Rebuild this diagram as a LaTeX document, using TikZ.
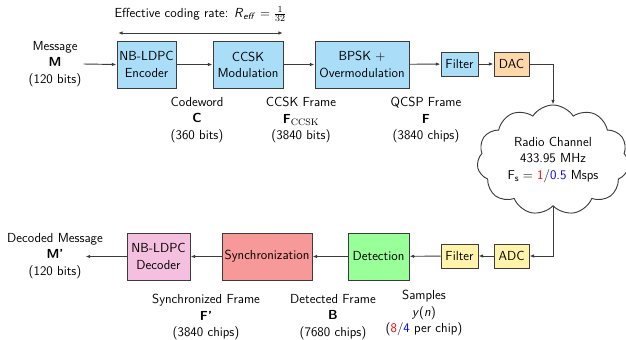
\documentclass[tikz,border=0pt]{standalone}
\usepackage{amsmath}
\usetikzlibrary{arrows.meta,shapes.symbols,positioning}
\definecolor{boxblue}{RGB}{170,222,248}
\definecolor{boxorange}{RGB}{255,216,170}
\definecolor{boxyellow}{RGB}{255,244,170}
\definecolor{boxgreen}{RGB}{153,255,153}
\definecolor{boxred}{RGB}{248,153,153}
\definecolor{boxpink}{RGB}{245,192,224}
\definecolor{linegray}{RGB}{60,60,60}
\begin{document}
\begin{tikzpicture}[x=0.03cm,y=-0.03cm,
  font=\fontsize{11.2}{13.8}\selectfont\sffamily,
  block/.style={draw=linegray,line width=0.8pt,align=center,inner sep=2pt},
  bigblock/.style={block,minimum height=47*0.03cm},
  smallblock/.style={block,minimum height=24*0.03cm,minimum width=35*0.03cm},
  lbl/.style={align=center,inner sep=0pt},
  flow/.style={draw=linegray,line width=0.8pt,-{Latex[length=4pt,width=3pt]}},
]
\useasboundingbox (0,0) rectangle (626,339);

% transmitter chain
\node[lbl] (msg) at (55,64) {Message\\ \textbf{M}\\ (120 bits)};
\node[bigblock,fill=boxblue,minimum width=57*0.03cm] (enc) at (146.5,64.5) {NB-LDPC\\Encoder};
\node[bigblock,fill=boxblue,minimum width=70*0.03cm] (mod) at (248,64.5) {CCSK\\Modulation};
\node[bigblock,fill=boxblue,minimum width=94*0.03cm] (bpsk) at (362,64.5) {BPSK $+$\\Overmodulation};
\node[smallblock,fill=boxblue,minimum width=37*0.03cm] (ftx) at (459.5,64) {Filter};
\node[smallblock,fill=boxorange] (dac) at (511.5,64) {DAC};

\draw[flow] (msg.east) ++(2,0) coordinate (msgout) -- (enc.west);
\draw[flow] (enc) -- (mod);
\draw[flow] (mod) -- (bpsk);
\draw[flow] (bpsk) -- (ftx);
\draw[flow] (ftx) -- (dac);

% coding-rate span
\coordinate (rl) at (118,33);
\coordinate (rr) at (283,33);
\draw[draw=linegray,line width=0.8pt,{Latex[length=4pt,width=3pt]}-{Latex[length=4pt,width=3pt]}] (rl) -- (rr);
\node[lbl] (rate) at (200.5,14) {Effective coding rate: \textit{R}\textsubscript{\textit{eff}} $= \tfrac{1}{32}$};

% signal descriptions (transmitter)
\node[lbl] (cw) at (197,120) {Codeword\\ \textbf{C}\\ (360 bits)};
\node[lbl] (cf) at (301,120) {CCSK Frame\\ \textbf{F}$_{\mathrm{CCSK}}$\\ (3840 bits)};
\node[lbl] (qf) at (426,120) {QCSP Frame\\ \textbf{F}\\ (3840 chips)};

% channel
\node[cloud,draw=linegray,line width=0.8pt,cloud puffs=11,cloud puff arc=115,aspect=1.45,
      minimum width=152*0.03cm,minimum height=110*0.03cm,align=center,inner sep=0pt] (ch) at (553,160)
  {Radio Channel\\ 433.95 MHz\\ $\mathsf{F_s} =$ \textcolor{red}{1}/\textcolor{blue}{0.5} Msps};

% receiver chain
\node[smallblock,fill=boxyellow] (adc) at (511.5,256) {ADC};
\node[smallblock,fill=boxyellow,minimum width=37*0.03cm] (frx) at (459.5,256) {Filter};
\node[bigblock,fill=boxgreen,minimum width=61*0.03cm] (det) at (378.5,256.5) {Detection};
\node[bigblock,fill=boxred,minimum width=90*0.03cm] (sync) at (267,256.5) {Synchronization};
\node[bigblock,fill=boxpink,minimum width=63*0.03cm] (dec) at (158.5,256.5) {NB-LDPC\\Decoder};
\node[lbl] (dmsg) at (55,256) {Decoded Message\\ \textbf{M'}\\ (120 bits)};

\draw[flow] (dac.east) -| (ch.north);
\draw[flow] (ch.south) |- (adc.east);
\draw[flow] (adc) -- (frx);
\draw[flow] (frx) -- (det);
\draw[flow] (det) -- (sync);
\draw[flow] (sync) -- (dec);
\draw[flow] (dec.west) -- ++(-41,0) coordinate (dmsgin);

% signal descriptions (receiver)
\node[lbl] (sf) at (206,317) {Synchronized Frame\\ \textbf{F'}\\ (3840 chips)};
\node[lbl] (df) at (333,317) {Detected Frame\\ \textbf{B}\\ (7680 chips)};
\node[lbl] (smp) at (424,313) {Samples\\ \textit{y}(\textit{n})\\ (\textcolor{red}{8}/\textcolor{blue}{4} per chip)};
\end{tikzpicture}
\end{document}
